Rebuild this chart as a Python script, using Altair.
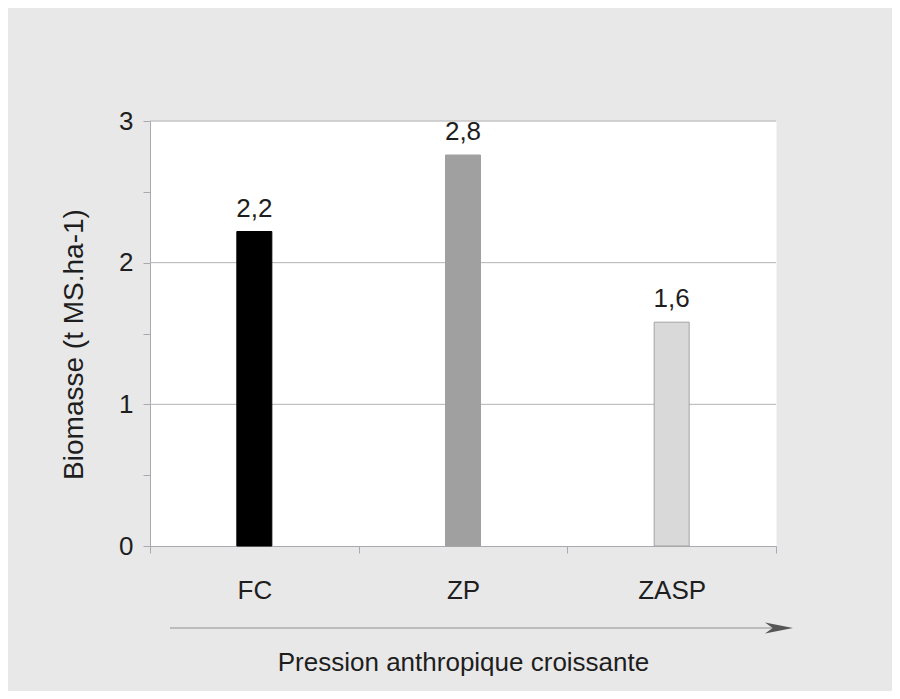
import altair as alt
import pandas as pd

# ---- data ----
categories = ["FC", "ZP", "ZASP"]
values = [2.22, 2.76, 1.58]
value_labels = ["2,2", "2,8", "1,6"]
fill_colors = ["#000000", "#a0a0a0", "#d9d9d9"]
stroke_colors = ["#000000", "#a0a0a0", "#a3a3a3"]
grid_values = [1, 2, 3]
y_tick_values = [0, 0.5, 1, 1.5, 2, 2.5, 3]

df = pd.DataFrame({"cat": categories, "val": values, "label": value_labels})
grid_df = pd.DataFrame({"val": grid_values})
one = pd.DataFrame({"k": [0]})

FONT = "Liberation Sans"
TXT = "#1e1e1e"
AX = "#a9a9b2"
FS = 26

W, H = 626, 425

x_axis = alt.Axis(
    title="Pression anthropique croissante",
    labelAngle=0,
    tickBand="extent",
    tickSize=7,
    labelPadding=24,
    titlePadding=46,
    domainColor=AX,
    tickColor=AX,
    labelFont=FONT,
    labelFontSize=FS,
    labelColor=TXT,
    titleFont=FONT,
    titleFontSize=FS,
    titleFontWeight="normal",
    titleColor=TXT,
    grid=False,
)

y_axis = alt.Axis(
    title="Biomasse (t MS.ha-1)",
    values=y_tick_values,
    labelExpr="datum.value % 1 == 0 ? format(datum.value, 'd') : ''",
    tickSize=7,
    labelPadding=10,
    titlePadding=30,
    titleY=223,
    domainColor=AX,
    tickColor=AX,
    labelFont=FONT,
    labelFontSize=FS,
    labelColor=TXT,
    titleFont=FONT,
    titleFontSize=28,
    titleFontWeight="normal",
    titleColor=TXT,
    grid=False,
)

y_scale = alt.Scale(domain=[0, 3], nice=False, zero=True)
x_scale = alt.Scale(domain=categories, paddingInner=0, paddingOuter=0)

grid = alt.Chart(grid_df).mark_rule(color="#b4b4b4", strokeWidth=1).encode(
    y=alt.Y("val:Q", scale=y_scale, axis=y_axis)
)

bars = alt.Chart(df).mark_bar(width=35, strokeWidth=1).encode(
    x=alt.X("cat:N", scale=x_scale, axis=x_axis),
    y=alt.Y("val:Q", scale=y_scale, axis=y_axis),
    fill=alt.Fill("cat:N", scale=alt.Scale(domain=categories, range=fill_colors), legend=None),
    stroke=alt.Stroke("cat:N", scale=alt.Scale(domain=categories, range=stroke_colors), legend=None),
)

text = alt.Chart(df).mark_text(
    font=FONT, fontSize=FS, color=TXT, baseline="alphabetic", dy=-15
).encode(
    x=alt.X("cat:N", scale=x_scale, axis=x_axis),
    y=alt.Y("val:Q", scale=y_scale, axis=y_axis),
    text="label:N",
)

arrow_line = alt.Chart(one).mark_rule(color="#8f8f8f", strokeWidth=1).encode(
    x=alt.value(20), x2=alt.value(628), y=alt.value(507)
)

arrow_head = alt.Chart(one).mark_point(
    shape="M1,0 L-1,-0.4 L-0.45,0 L-1,0.4 Z",
    size=784,
    filled=True,
    color="#555555",
    opacity=1,
).encode(x=alt.value(629), y=alt.value(507))

chart = (
    alt.layer(grid, bars, text, arrow_line, arrow_head)
    .properties(
        width=W,
        height=H,
        autosize=alt.AutoSizeParams(type="none"),
        padding={"left": 142, "top": 113, "right": 116, "bottom": 145},
        background="#e8e8e8",
    )
    .configure_view(fill="white", stroke="transparent")
)

chart.save("out.html", embed_options={"renderer": "svg", "actions": False})
